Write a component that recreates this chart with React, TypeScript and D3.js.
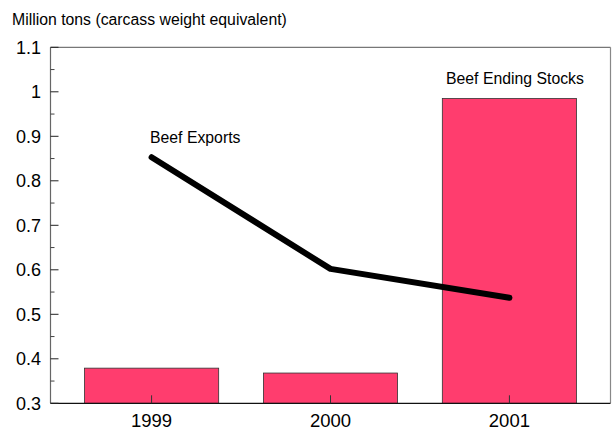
import React from 'react';
import * as d3 from 'd3';

const years = ['1999', '2000', '2001'];
const endingStocks = [0.379, 0.368, 0.985];
const exportsVals = [0.853, 0.602, 0.537];
const yMajor = [0.3, 0.4, 0.5, 0.6, 0.7, 0.8, 0.9, 1, 1.1];
const yMinor = [0.35, 0.45, 0.55, 0.65, 0.75, 0.85, 0.95, 1.05];

const W = 612;
const H = 430;
const left = 50.5;
const right = 610.5;
const top = 47.3;
const bottom = 403.3;
const font = 'Arial, "Liberation Sans", sans-serif';

export default function App() {
  const x = d3.scaleBand<string>().domain(years).range([left, right]).paddingInner(0.25).paddingOuter(0.19);
  const y = d3.scaleLinear().domain([0.3, 1.1]).range([bottom, top]);
  const line = d3
    .line<number>()
    .x((_, i) => (x(years[i]) as number) + x.bandwidth() / 2)
    .y((d) => y(d));

  return (
    <div style={{ position: 'absolute', left: 0, top: 0 }}>
      <svg width={W} height={H} style={{ display: 'block', background: '#fff' }}>
        <text x={12} y={25} fontFamily={font} fontSize={15.8} fill="#000">
          Million tons (carcass weight equivalent)
        </text>

        {/* bars */}
        {endingStocks.map((v, i) => (
          <rect
            key={years[i]}
            x={x(years[i])}
            y={y(v)}
            width={x.bandwidth()}
            height={bottom - y(v)}
            fill="#ff3d6e"
            stroke="#333"
            strokeWidth={0.8}
          />
        ))}

        {/* frame */}
        <line x1={left} x2={right} y1={top} y2={top} stroke="#777" strokeWidth={1.2} />
        <line x1={right} x2={right} y1={top} y2={bottom} stroke="#888" strokeWidth={1.2} />
        <line x1={left} x2={left} y1={top} y2={bottom} stroke="#666" strokeWidth={1.2} />
        <line x1={left} x2={right} y1={bottom} y2={bottom} stroke="#111" strokeWidth={1.2} />

        {/* y ticks */}
        {yMajor.map((t) => (
          <g key={t}>
            <line x1={left} x2={left + 8} y1={y(t)} y2={y(t)} stroke="#222" strokeWidth={1} />
            <text x={41} y={y(t)} dy="0.36em" textAnchor="end" fontFamily={font} fontSize={18} fill="#000">
              {t}
            </text>
          </g>
        ))}
        {yMinor.map((t) => (
          <line key={t} x1={left} x2={left + 4} y1={y(t)} y2={y(t)} stroke="#444" strokeWidth={1} />
        ))}

        {/* x ticks */}
        {years.map((yr) => {
          const cx = (x(yr) as number) + x.bandwidth() / 2;
          return (
            <g key={yr}>
              <line x1={cx} x2={cx} y1={bottom} y2={bottom - 8} stroke="#333" strokeWidth={1} />
              <text x={cx} y={427} textAnchor="middle" fontFamily={font} fontSize={18.5} fill="#000">
                {yr}
              </text>
            </g>
          );
        })}

        {/* exports line */}
        <path d={line(exportsVals) || ''} fill="none" stroke="#000" strokeWidth={6} strokeLinejoin="round" strokeLinecap="round" />

        <text x={150} y={143} fontFamily={font} fontSize={15.8} fill="#000">
          Beef Exports
        </text>
        <text x={446} y={84} fontFamily={font} fontSize={15.8} fill="#000">
          Beef Ending Stocks
        </text>
      </svg>
    </div>
  );
}
